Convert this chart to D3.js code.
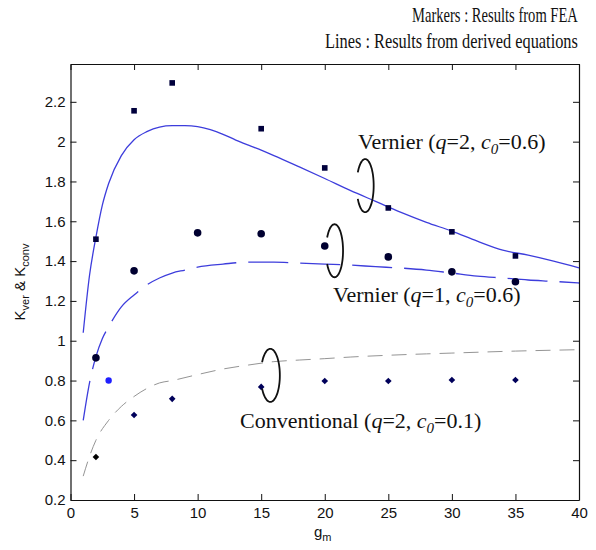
<!DOCTYPE html>
<html>
<head>
<meta charset="utf-8">
<script src="https://cdn.jsdelivr.net/npm/d3@7"></script>
<style>
    body { margin: 0; background: #fff; }
    svg { display: block; }
</style>
</head>
<body>
<div id="chart-container"></div>
<script>

// FEA results (markers)
const vernier2Gm = [2, 5, 8, 15, 20, 25, 30, 35]
const vernier2Fea = [1.51, 2.155, 2.295, 2.065, 1.868, 1.667, 1.547, 1.426]

const vernier1Gm = [2, 5, 10, 15, 20, 25, 30, 35]
const vernier1Fea = [0.914, 1.351, 1.542, 1.537, 1.476, 1.421, 1.346, 1.296]

const convGm = [2, 5, 8, 15, 20, 25, 30, 35]
const convFea = [0.416, 0.627, 0.708, 0.768, 0.798, 0.798, 0.803, 0.803]

const extraGm = [3]
const extraFea = [0.8]

// derived equations (lines)
const vernier2LineGm = [1, 1.5, 2, 2.5, 3, 4, 5, 6, 7, 8, 9, 10, 11, 12, 13, 14, 15, 16, 18, 20, 22, 24, 26, 28, 30, 32, 34, 36, 38, 40]
const vernier2Line = [1.04, 1.33, 1.52, 1.68, 1.79, 1.93, 2.01, 2.05, 2.073, 2.08, 2.08, 2.075, 2.06, 2.037, 2.008, 1.982, 1.957, 1.93, 1.873, 1.815, 1.755, 1.70, 1.645, 1.595, 1.55, 1.5, 1.455, 1.43, 1.40, 1.366]

const vernier1LineGm = [1, 1.5, 2, 2.5, 3, 4, 5, 6, 7, 8, 9, 10, 12, 14, 16, 18, 20, 22, 24, 26, 28, 30, 32, 34, 36, 38, 40]
const vernier1Line = [0.6, 0.79, 0.92, 1.01, 1.07, 1.17, 1.23, 1.28, 1.315, 1.34, 1.355, 1.37, 1.385, 1.395, 1.395, 1.39, 1.385, 1.38, 1.372, 1.365, 1.355, 1.34, 1.325, 1.315, 1.305, 1.298, 1.29]

const convLineGm = [1, 1.5, 2, 3, 4, 5, 6, 7, 8, 10, 12, 14, 16, 18, 20, 22, 25, 28, 30, 35, 40]
const convLine = [0.32, 0.42, 0.5, 0.6, 0.67, 0.72, 0.76, 0.788, 0.8, 0.83, 0.858, 0.878, 0.895, 0.903, 0.91, 0.918, 0.927, 0.934, 0.938, 0.948, 0.955]

// ticks
const xTicks = [0, 5, 10, 15, 20, 25, 30, 35, 40]
const yTicks = [0.2, 0.4, 0.6, 0.8, 1, 1.2, 1.4, 1.6, 1.8, 2, 2.2]

// bracket annotations (centre in data units)
const bracketGm = [23.18, 20.77, 15.72]
const bracketK = [1.779, 1.452, 0.826]

const renderChart = () => {

    const svgWidth = 596
    const svgHeight = 550

    // plot box edges in pixels
    const box = { left: 70.5, right: 579, top: 64, bottom: 500 }

    const xScale = d3.scaleLinear()
        .domain([0, 40])
        .range([box.left, box.right])

    const yScale = d3.scaleLinear()
        .domain([0.2, 2.39])
        .range([box.bottom, box.top])

    const svg = d3.select('#chart-container')
        .append('svg')
            .attr('width', svgWidth)
            .attr('height', svgHeight)

    const sans = '"Liberation Sans", Arial, Helvetica, sans-serif'
    const serif = '"Liberation Serif", "Times New Roman", serif'

    // axes - matlab style, ticks pointing inward
    const xAxis = d3.axisBottom(xScale)
        .tickValues(xTicks)
        .tickSizeInner(-6)
        .tickSizeOuter(0)
        .tickPadding(7)

    const yAxis = d3.axisLeft(yScale)
        .tickValues(yTicks)
        .tickSizeInner(-6)
        .tickSizeOuter(0)
        .tickPadding(5)
        .tickFormat(d => String(+d.toFixed(1)))

    const xAxisTop = d3.axisTop(xScale).tickValues(xTicks).tickSizeInner(-6).tickSizeOuter(0).tickFormat('')
    const yAxisRight = d3.axisRight(yScale).tickValues(yTicks).tickSizeInner(-6).tickSizeOuter(0).tickFormat('')

    const styleAxis = sel => {
        sel.selectAll('path').attr('stroke', '#111').attr('stroke-width', 1.2)
        sel.selectAll('line').attr('stroke', '#111').attr('stroke-width', 1)
        sel.selectAll('text')
            .attr('fill', '#111')
            .style('font-family', sans)
            .style('font-size', '15px')
    }

    svg.append('g')
        .attr('transform', `translate(0, ${box.bottom})`)
        .call(xAxis)
        .call(styleAxis)

    svg.append('g')
        .attr('transform', `translate(${box.left}, 0)`)
        .call(yAxis)
        .call(styleAxis)

    svg.append('g')
        .attr('transform', `translate(0, ${box.top})`)
        .call(xAxisTop)
        .call(styleAxis)

    svg.append('g')
        .attr('transform', `translate(${box.right}, 0)`)
        .call(yAxisRight)
        .call(styleAxis)

    // lines from the derived equations
    const lineGen = d3.line()
        .x(d => xScale(d[0]))
        .y(d => yScale(d[1]))
        .curve(d3.curveMonotoneX)

    const lines = [
        { gm: vernier2LineGm, k: vernier2Line, color: '#3d3ddc', width: 1.3, dash: null },
        { gm: vernier1LineGm, k: vernier1Line, color: '#3d3ddc', width: 1.3, dash: '40,12' },
        { gm: convLineGm, k: convLine, color: '#888888', width: 0.9, dash: '15,9' }
    ]

    lines.forEach(l => {
        svg.append('path')
            .datum(d3.zip(l.gm, l.k))
            .attr('d', lineGen)
            .attr('fill', 'none')
            .attr('stroke', l.color)
            .attr('stroke-width', l.width)
            .attr('stroke-dasharray', l.dash)
    })

    // FEA markers
    svg.selectAll('.sq')
        .data(d3.zip(vernier2Gm, vernier2Fea))
        .enter()
        .append('rect')
            .attr('class', 'sq')
            .attr('x', d => xScale(d[0]) - 2.8)
            .attr('y', d => yScale(d[1]) - 2.8)
            .attr('width', 5.6)
            .attr('height', 5.6)
            .attr('fill', '#00003c')

    svg.selectAll('.ci')
        .data(d3.zip(vernier1Gm, vernier1Fea))
        .enter()
        .append('circle')
            .attr('class', 'ci')
            .attr('cx', d => xScale(d[0]))
            .attr('cy', d => yScale(d[1]))
            .attr('r', 3.8)
            .attr('fill', '#000030')

    const diamond = d3.symbol().type(d3.symbolDiamond2).size(28)
    svg.selectAll('.di')
        .data(d3.zip(convGm, convFea))
        .enter()
        .append('path')
            .attr('class', 'di')
            .attr('d', diamond)
            .attr('transform', d => `translate(${xScale(d[0])}, ${yScale(d[1])})`)
            .attr('fill', (d, i) => i === 0 ? '#000000' : '#00005a')

    svg.selectAll('.ex')
        .data(d3.zip(extraGm, extraFea))
        .enter()
        .append('circle')
            .attr('class', 'ex')
            .attr('cx', d => xScale(d[0]))
            .attr('cy', d => yScale(d[1]))
            .attr('r', 3.2)
            .attr('fill', '#1f1fff')

    // brackets, ellipse arcs open on the left
    const bracketPath = (cx, cy, rx, ry) => {
        const pts = d3.range(-150, 151, 5).map(a => {
            const t = a * Math.PI / 180
            return [cx + rx * Math.cos(t), cy + ry * Math.sin(t)]
        })
        return d3.line().curve(d3.curveCatmullRom)(pts)
    }

    d3.zip(bracketGm, bracketK).forEach((b, i) => {
        svg.append('path')
            .attr('d', bracketPath(xScale(b[0]), yScale(b[1]), i === 2 ? 9.5 : 8.5, 26.5))
            .attr('fill', 'none')
            .attr('stroke', '#111')
            .attr('stroke-width', 1.8)
    })

    // series labels
    const seriesLabel = (x, y, name, q, c0) => {
        const t = svg.append('text')
            .attr('x', x)
            .attr('y', y)
            .style('font-family', serif)
            .style('font-size', '22px')
            .attr('fill', '#111')
        t.append('tspan').text(name + ' (')
        t.append('tspan').style('font-style', 'italic').text('q')
        t.append('tspan').text('=' + q + ', ')
        t.append('tspan').style('font-style', 'italic').text('c')
        t.append('tspan').style('font-style', 'italic').style('font-size', '15px').attr('dy', 5).text('0')
        t.append('tspan').attr('dy', -5).text('=' + c0 + ')')
    }

    seriesLabel(358, 149, 'Vernier', 2, 0.6)
    seriesLabel(333, 302, 'Vernier', 1, 0.6)
    seriesLabel(240, 428, 'Conventional', 2, 0.1)

    // top-right legend text, condensed serif squeezed to the measured width
    const condensedText = (left, baseline, width, str) => {
        const t = svg.append('text')
            .style('font-family', serif)
            .style('font-size', '21px')
            .attr('fill', '#111')
            .text(str)
        const natural = t.node().getComputedTextLength()
        t.attr('transform', `translate(${left}, ${baseline}) scale(${width / natural}, 1)`)
    }

    condensedText(412, 22, 166, 'Markers : Results from FEA')
    condensedText(325, 48, 253, 'Lines : Results from derived equations')

    // axis titles
    const xLabel = svg.append('text')
        .attr('x', 314)
        .attr('y', 537)
        .style('font-family', sans)
        .style('font-size', '15px')
        .attr('fill', '#111')
    xLabel.append('tspan').text('g')
    xLabel.append('tspan').attr('dy', 4).style('font-size', '11px').text('m')

    const yLabel = svg.append('text')
        .attr('transform', `translate(25, ${(box.top + box.bottom) / 2}) rotate(-90)`)
        .attr('text-anchor', 'middle')
        .style('font-family', sans)
        .style('font-size', '15px')
        .attr('fill', '#111')
    yLabel.append('tspan').text('K')
    yLabel.append('tspan').attr('dy', 4).style('font-size', '11px').text('ver')
    yLabel.append('tspan').attr('dy', -4).text(' & K')
    yLabel.append('tspan').attr('dy', 4).style('font-size', '11px').text('conv')
}

renderChart()
</script>
</body>
</html>
